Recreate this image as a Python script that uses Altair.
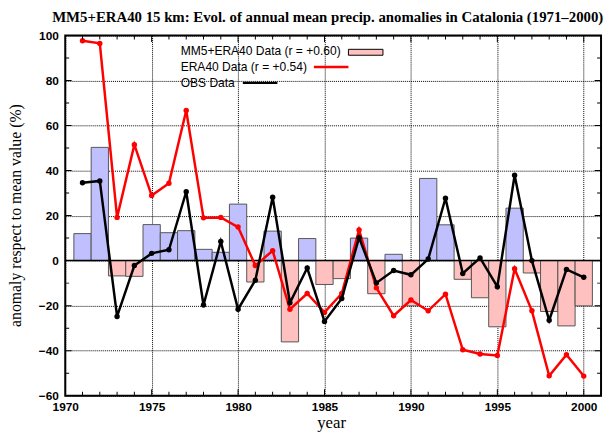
import altair as alt
import pandas as pd

years = list(range(1971, 2001))
mm5_era40 = [12.0, 50.3, -6.8, -7.0, 16.0, 12.4, 13.3, 5.0, 3.7, 25.1,
             -9.5, 13.1, -36.1, 9.8, -10.6, -8.0, 10.0, -14.7, 2.8, -20.1,
             36.5, 15.9, -8.3, -16.5, -29.4, 23.3, -5.5, -22.6, -29.0, -20.1]
era40 = [97.7, 96.5, 19.2, 51.5, 28.9, 34.4, 66.7, 19.0, 19.2, 14.9,
         -2.2, 4.4, -21.6, -14.6, -23.0, -14.6, 13.6, -12.1, -24.5, -17.5,
         -22.3, -14.9, -39.6, -41.5, -42.1, -3.6, -22.3, -51.2, -41.8, -51.3]
obs = [34.6, 35.4, -24.8, -2.2, 3.2, 4.8, 30.6, -19.7, 8.5, -21.6,
       -8.7, 28.2, -18.7, -3.3, -27.0, -16.8, 10.2, -9.9, -4.4, -6.3,
       0.7, 27.7, -5.7, 1.2, -11.6, 37.9, 0.0, -26.5, -3.9, -7.4]

x_tick_labels = list(range(1970, 2001, 5))
y_tick_labels = list(range(-60, 101, 20))
x_minor = list(range(1970, 2002))
y_minor = list(range(-60, 101, 10))

title_text = "MM5+ERA40 15 km: Evol. of annual mean precip. anomalies in Catalonia (1971\u20132000)"
legend_labels = ["MM5+ERA40 Data (r = +0.60)", "ERA40 Data (r = +0.54)", "OBS Data"]

df = pd.DataFrame({"year": years, "mm5": mm5_era40, "era40": era40, "obs": obs})
xt = pd.DataFrame({"year": x_minor, "major": [y % 5 == 0 for y in x_minor]})
yt = pd.DataFrame({"v": y_minor, "major": [v % 20 == 0 for v in y_minor]})
one = pd.DataFrame({"a": [0]})

W, H = 543, 365
xs = alt.Scale(domain=[1970, 2001], nice=False, zero=False)
ys = alt.Scale(domain=[-60, 100], nice=False, zero=False)

common_axis = dict(
    title=None, ticks=False, domain=False, grid=True, labelFlush=False,
    gridColor="black", gridDash=[1, 1], gridWidth=1, gridOpacity=1,
    labelFont="Liberation Sans", labelFontWeight="bold", labelFontSize=12,
    labelColor="black",
)
xaxis = alt.Axis(values=x_tick_labels, format="d", labelPadding=6, **common_axis)
yaxis = alt.Axis(values=y_tick_labels, format="d", labelPadding=7, **common_axis)


def X(f):
    return alt.X(f, scale=xs, axis=xaxis)


def Y(f):
    return alt.Y(f, scale=ys, axis=yaxis)


bars = alt.Chart(df).transform_calculate(
    x0="datum.year - 0.5", x1="datum.year + 0.5"
).mark_rect(stroke="#555555", strokeWidth=1).encode(
    x=X("x0:Q"), x2="x1:Q",
    y=Y("mm5:Q"), y2=alt.datum(0),
    fill=alt.condition("datum.mm5 >= 0", alt.value("#C0C0FF"), alt.value("#FFC0C0")),
)

zero = alt.Chart(one).mark_rule(color="black", strokeWidth=1.5).encode(y=Y("z:Q")).transform_calculate(z="0")

red = alt.Chart(df).mark_line(
    color="#FF0000", strokeWidth=2.5,
    point=alt.OverlayMarkDef(filled=True, color="#FF0000", size=30, opacity=1),
).encode(x=X("year:Q"), y=Y("era40:Q"))

black = alt.Chart(df).mark_line(
    color="black", strokeWidth=2.5,
    point=alt.OverlayMarkDef(filled=True, color="black", size=30, opacity=1),
).encode(x=X("year:Q"), y=Y("obs:Q"))

tick_style = dict(color="black", thickness=1, clip=True, opacity=1)
tsize = alt.condition("datum.major", alt.value(13), alt.value(8))
xticks_b = alt.Chart(xt).mark_tick(orient="vertical", **tick_style).encode(
    x=X("year:Q"), y=alt.value(H), size=tsize)
xticks_t = alt.Chart(xt).mark_tick(orient="vertical", **tick_style).encode(
    x=X("year:Q"), y=alt.value(0), size=tsize)
yticks_l = alt.Chart(yt).mark_tick(orient="horizontal", **tick_style).encode(
    y=Y("v:Q"), x=alt.value(0), size=tsize)
yticks_r = alt.Chart(yt).mark_tick(orient="horizontal", **tick_style).encode(
    y=Y("v:Q"), x=alt.value(W), size=tsize)

txt = dict(font="Liberation Sans", fontSize=12.2, color="black", align="left", baseline="middle")
leg1 = alt.Chart(one).mark_text(**txt).encode(x=alt.value(117), y=alt.value(16), text=alt.value(legend_labels[0]))
leg2 = alt.Chart(one).mark_text(**txt).encode(x=alt.value(117), y=alt.value(32), text=alt.value(legend_labels[1]))
leg3 = alt.Chart(one).mark_text(**txt).encode(x=alt.value(117), y=alt.value(48), text=alt.value(legend_labels[2]))
legbox = alt.Chart(one).mark_rect(fill="#FFC0C0", stroke="black", strokeWidth=1).encode(
    x=alt.value(287), x2=alt.value(322), y=alt.value(14), y2=alt.value(20))
legred = alt.Chart(one).mark_rule(color="#FF0000", strokeWidth=2.5).encode(
    x=alt.value(252), x2=alt.value(287), y=alt.value(32))
legblack = alt.Chart(one).mark_rule(color="black", strokeWidth=2.5).encode(
    x=alt.value(180), x2=alt.value(215), y=alt.value(48))

title = alt.Chart(one).mark_text(
    font="Liberation Serif", fontSize=15, fontWeight="bold", color="black",
    align="center", baseline="middle").encode(
    x=alt.value(266), y=alt.value(-19), text=alt.value(title_text))
ytitle = alt.Chart(one).mark_text(
    font="Liberation Serif", fontSize=16, color="black",
    align="center", baseline="middle", angle=270).encode(
    x=alt.value(-50), y=alt.value(H / 2), text=alt.value("anomaly respect to mean value (%)"))
xtitle = alt.Chart(one).mark_text(
    font="Liberation Serif", fontSize=17, color="black",
    align="center", baseline="middle").encode(
    x=alt.value(270), y=alt.value(393), text=alt.value("year"))

chart = alt.layer(
    bars, zero, red, black, xticks_b, xticks_t, yticks_l, yticks_r,
    leg1, leg2, leg3, legbox, legred, legblack, title, ytitle, xtitle,
).properties(
    width=W, height=H,
    autosize=alt.AutoSizeParams(type="none"),
    padding={"left": 58, "top": 25, "right": 3, "bottom": 39},
    background="white",
).configure_view(stroke="black", strokeWidth=2)

chart.save("out.html", embed_options={"renderer": "svg", "actions": False})
